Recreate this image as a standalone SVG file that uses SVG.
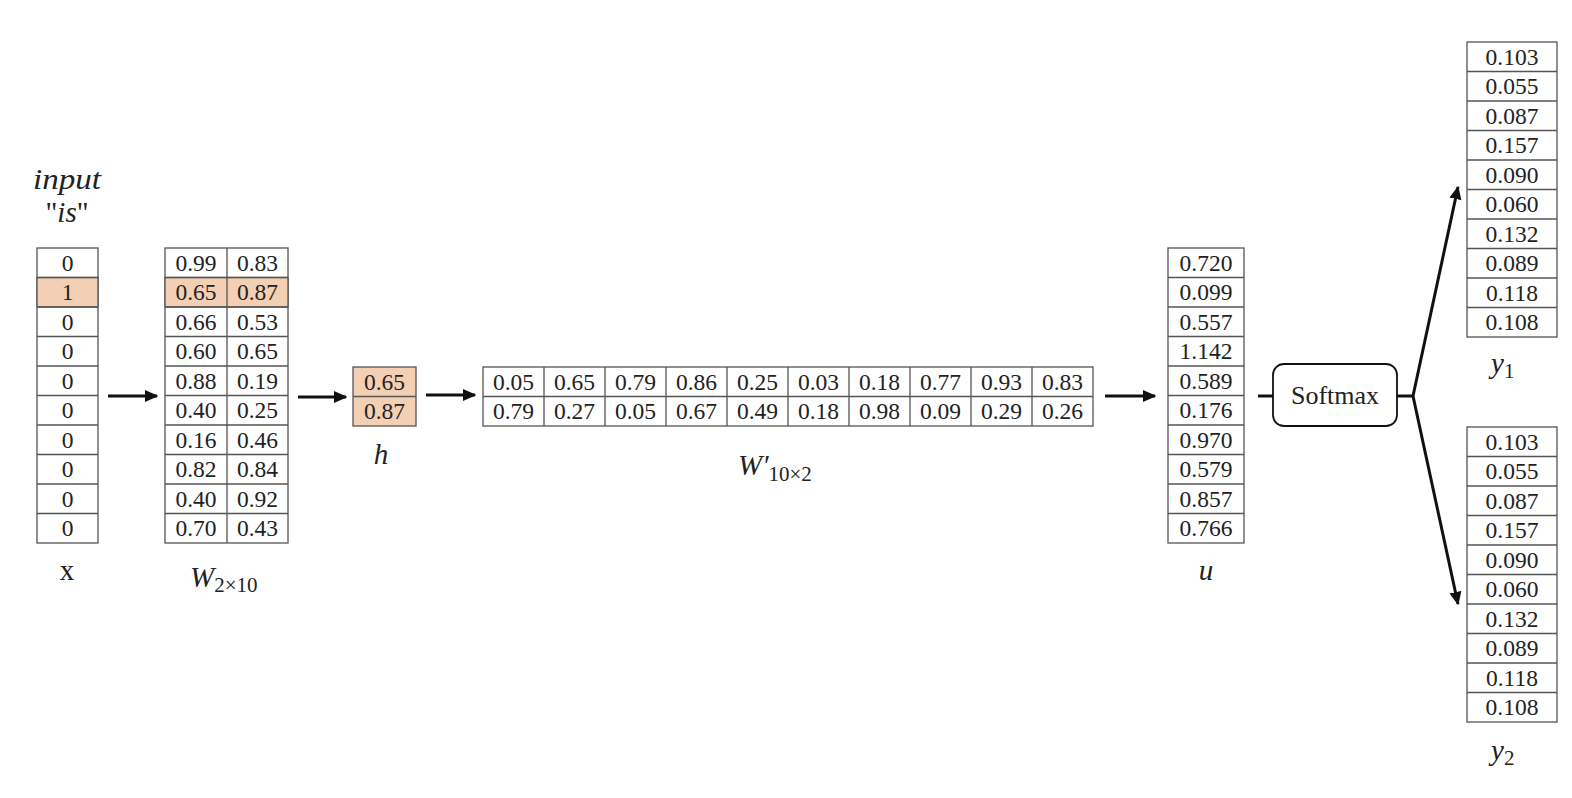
<svg xmlns="http://www.w3.org/2000/svg" width="1572" height="798" viewBox="0 0 1572 798">
<style>
.c{fill:#fff;stroke:#555;stroke-width:1.3}
.hl{fill:#F3D0B3;stroke:#555;stroke-width:1.3}
.t{font-family:"Liberation Serif",serif;font-size:23.5px;fill:#222;text-anchor:middle}
.lb{font-family:"Liberation Serif",serif;font-size:29px;fill:#222;text-anchor:middle}
.it{font-style:italic}
.sub{font-family:"Liberation Serif",serif;font-size:21px;fill:#222}
.ln{stroke:#111;stroke-width:3;fill:none}
</style>
<defs>
<marker id="ah" viewBox="0 0 10 10" refX="9" refY="5" markerWidth="4.5" markerHeight="4.5" markerUnits="strokeWidth" orient="auto">
<path d="M0,0.5 L10,5 L0,9.5 Z" fill="#111"/>
</marker>
</defs>
<rect width="1572" height="798" fill="#fff"/>

<g id="label-input">
<text class="lb it" x="67" y="189" textLength="68" lengthAdjust="spacingAndGlyphs">input</text>
<text class="lb" x="67" y="222">"<tspan class="it">is</tspan>"</text>
</g>

<g id="x">
<rect class="c" x="37" y="248" width="61" height="295"/>
<rect class="hl" x="37" y="277.5" width="61" height="29.5"/>
<path d="M37 277.5H98M37 307H98M37 336.5H98M37 366H98M37 395.5H98M37 425H98M37 454.5H98M37 484H98M37 513.5H98" stroke="#555" stroke-width="1.3"/>
<text class="t" x="67.5" y="271">0</text>
<text class="t" x="67.5" y="300">1</text>
<text class="t" x="67.5" y="330">0</text>
<text class="t" x="67.5" y="359">0</text>
<text class="t" x="67.5" y="389">0</text>
<text class="t" x="67.5" y="418">0</text>
<text class="t" x="67.5" y="448">0</text>
<text class="t" x="67.5" y="477">0</text>
<text class="t" x="67.5" y="507">0</text>
<text class="t" x="67.5" y="536">0</text>
<text class="lb" x="67" y="580">x</text>
</g>

<g id="W">
<rect class="c" x="165" y="248" width="123" height="295"/>
<rect class="hl" x="165" y="277.5" width="123" height="29.5"/>
<path d="M165 277.5H288M165 307H288M165 336.5H288M165 366H288M165 395.5H288M165 425H288M165 454.5H288M165 484H288M165 513.5H288M227 248V543" stroke="#555" stroke-width="1.3"/>
<text class="t" x="196" y="271">0.99</text><text class="t" x="257.5" y="271">0.83</text>
<text class="t" x="196" y="300">0.65</text><text class="t" x="257.5" y="300">0.87</text>
<text class="t" x="196" y="330">0.66</text><text class="t" x="257.5" y="330">0.53</text>
<text class="t" x="196" y="359">0.60</text><text class="t" x="257.5" y="359">0.65</text>
<text class="t" x="196" y="389">0.88</text><text class="t" x="257.5" y="389">0.19</text>
<text class="t" x="196" y="418">0.40</text><text class="t" x="257.5" y="418">0.25</text>
<text class="t" x="196" y="448">0.16</text><text class="t" x="257.5" y="448">0.46</text>
<text class="t" x="196" y="477">0.82</text><text class="t" x="257.5" y="477">0.84</text>
<text class="t" x="196" y="507">0.40</text><text class="t" x="257.5" y="507">0.92</text>
<text class="t" x="196" y="536">0.70</text><text class="t" x="257.5" y="536">0.43</text>
<text x="190" y="587"><tspan class="lb it" style="text-anchor:start">W</tspan><tspan class="sub" dy="5">2×10</tspan></text>
</g>

<g id="h">
<rect class="hl" x="353" y="367" width="63" height="59"/>
<path d="M353 396.5H416" stroke="#555" stroke-width="1.3"/>
<text class="t" x="384.5" y="390">0.65</text>
<text class="t" x="384.5" y="419">0.87</text>
<text class="lb it" x="381" y="464">h</text>
</g>

<g id="Wp">
<rect class="c" x="483" y="367" width="610" height="59"/>
<path d="M483 396.5H1093M544 367V426M605 367V426M666 367V426M727 367V426M788 367V426M849 367V426M910 367V426M971 367V426M1032 367V426" stroke="#555" stroke-width="1.3"/>
<text class="t" x="513.5" y="390">0.05</text><text class="t" x="574.5" y="390">0.65</text><text class="t" x="635.5" y="390">0.79</text><text class="t" x="696.5" y="390">0.86</text><text class="t" x="757.5" y="390">0.25</text><text class="t" x="818.5" y="390">0.03</text><text class="t" x="879.5" y="390">0.18</text><text class="t" x="940.5" y="390">0.77</text><text class="t" x="1001.5" y="390">0.93</text><text class="t" x="1062.5" y="390">0.83</text>
<text class="t" x="513.5" y="419">0.79</text><text class="t" x="574.5" y="419">0.27</text><text class="t" x="635.5" y="419">0.05</text><text class="t" x="696.5" y="419">0.67</text><text class="t" x="757.5" y="419">0.49</text><text class="t" x="818.5" y="419">0.18</text><text class="t" x="879.5" y="419">0.98</text><text class="t" x="940.5" y="419">0.09</text><text class="t" x="1001.5" y="419">0.29</text><text class="t" x="1062.5" y="419">0.26</text>
<text x="738" y="475"><tspan class="lb it" style="text-anchor:start">W′</tspan><tspan class="sub" dy="6">10×2</tspan></text>
</g>

<g id="u">
<rect class="c" x="1168" y="248" width="76" height="295"/>
<path d="M1168 277.5H1244M1168 307H1244M1168 336.5H1244M1168 366H1244M1168 395.5H1244M1168 425H1244M1168 454.5H1244M1168 484H1244M1168 513.5H1244" stroke="#555" stroke-width="1.3"/>
<text class="t" x="1206" y="271">0.720</text>
<text class="t" x="1206" y="300">0.099</text>
<text class="t" x="1206" y="330">0.557</text>
<text class="t" x="1206" y="359">1.142</text>
<text class="t" x="1206" y="389">0.589</text>
<text class="t" x="1206" y="418">0.176</text>
<text class="t" x="1206" y="448">0.970</text>
<text class="t" x="1206" y="477">0.579</text>
<text class="t" x="1206" y="507">0.857</text>
<text class="t" x="1206" y="536">0.766</text>
<text class="lb it" x="1206" y="580">u</text>
</g>

<g id="softmax">
<rect x="1273" y="364" width="124" height="62" rx="11" ry="11" fill="#fff" stroke="#111" stroke-width="1.8"/>
<text class="t" x="1335" y="404" style="font-size:26px">Softmax</text>
</g>

<g id="y1">
<rect class="c" x="1467" y="42" width="90" height="295"/>
<path d="M1467 71.5H1557M1467 101H1557M1467 130.5H1557M1467 160H1557M1467 189.5H1557M1467 219H1557M1467 248.5H1557M1467 278H1557M1467 307.5H1557" stroke="#555" stroke-width="1.3"/>
<text class="t" x="1512" y="65">0.103</text>
<text class="t" x="1512" y="94">0.055</text>
<text class="t" x="1512" y="124">0.087</text>
<text class="t" x="1512" y="153">0.157</text>
<text class="t" x="1512" y="183">0.090</text>
<text class="t" x="1512" y="212">0.060</text>
<text class="t" x="1512" y="242">0.132</text>
<text class="t" x="1512" y="271">0.089</text>
<text class="t" x="1512" y="301">0.118</text>
<text class="t" x="1512" y="330">0.108</text>
<text x="1491" y="373"><tspan class="lb it" style="text-anchor:start">y</tspan><tspan class="sub" dy="5">1</tspan></text>
</g>

<g id="y2">
<rect class="c" x="1467" y="427" width="90" height="295"/>
<path d="M1467 456.5H1557M1467 486H1557M1467 515.5H1557M1467 545H1557M1467 574.5H1557M1467 604H1557M1467 633.5H1557M1467 663H1557M1467 692.5H1557" stroke="#555" stroke-width="1.3"/>
<text class="t" x="1512" y="450">0.103</text>
<text class="t" x="1512" y="479">0.055</text>
<text class="t" x="1512" y="509">0.087</text>
<text class="t" x="1512" y="538">0.157</text>
<text class="t" x="1512" y="568">0.090</text>
<text class="t" x="1512" y="597">0.060</text>
<text class="t" x="1512" y="627">0.132</text>
<text class="t" x="1512" y="656">0.089</text>
<text class="t" x="1512" y="686">0.118</text>
<text class="t" x="1512" y="715">0.108</text>
<text x="1491" y="760"><tspan class="lb it" style="text-anchor:start">y</tspan><tspan class="sub" dy="5">2</tspan></text>
</g>

<g id="connectors">
<line class="ln" x1="108" y1="396" x2="157" y2="396" marker-end="url(#ah)"/>
<line class="ln" x1="298" y1="397" x2="346" y2="397" marker-end="url(#ah)"/>
<line class="ln" x1="426" y1="395" x2="475" y2="395" marker-end="url(#ah)"/>
<line class="ln" x1="1105" y1="396" x2="1155" y2="396" marker-end="url(#ah)"/>
<line class="ln" x1="1258" y1="396" x2="1273" y2="396"/>
<line class="ln" x1="1397" y1="396" x2="1413" y2="396"/>
<line class="ln" x1="1413" y1="396" x2="1458" y2="187" marker-end="url(#ah)"/>
<line class="ln" x1="1413" y1="396" x2="1458" y2="604" marker-end="url(#ah)"/>
</g>
</svg>
